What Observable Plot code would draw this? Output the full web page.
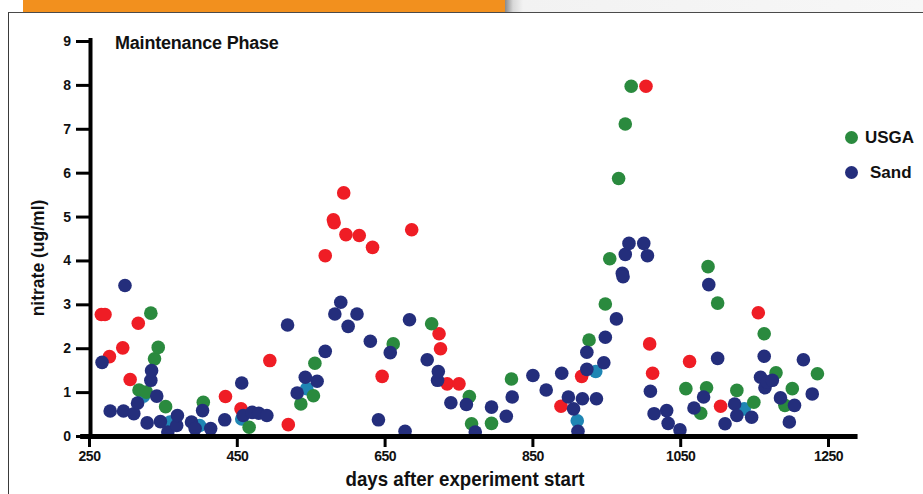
<!DOCTYPE html>
<html>
<head>
<meta charset="utf-8">
<script src="https://cdn.jsdelivr.net/npm/d3@7"></script>
<script src="https://cdn.jsdelivr.net/npm/@observablehq/plot@0.6"></script>
<style>
  html, body { margin: 0; padding: 0; background: #fff; }
  #wrap { position: relative; width: 923px; height: 494px; overflow: hidden; background: #fff; font-family: "Liberation Sans", Arial, Helvetica, sans-serif; }
  #orange { position: absolute; left: 23px; top: 0; width: 482px; height: 12px; background: #f2901e; }
  #gray { position: absolute; left: 505px; top: 0; width: 418px; height: 12px; background: linear-gradient(to right, #8a8a8a 0px, #d8d8d8 8px, #f2f2f2 18px, #f7f7f7 100%); }
  #frame { position: absolute; left: 8px; top: 12px; width: 930px; height: 500px; border-left: 1.5px solid #3a3a3a; border-top: 1.5px solid #4a4a4a; box-sizing: border-box; }
  #chart { position: absolute; left: 0; top: 0; }
  #chart svg text { font-family: "Liberation Sans", Arial, sans-serif !important; font-weight: bold !important; font-size: 14px !important; letter-spacing: -0.5px; fill: #111; }
  #title { position: absolute; left: 115px; top: 33px; font-weight: bold; font-size: 18px; color: #111; white-space: nowrap; letter-spacing: -0.2px; }
  .leg { position: absolute; font-weight: bold; font-size: 17px; color: #111; white-space: nowrap; }
  .legdot { position: absolute; width: 13px; height: 13px; border-radius: 50%; }
  #ylab { position: absolute; left: 38px; top: 258px; transform: translate(-50%, -50%) rotate(-90deg); font-weight: bold; font-size: 17.5px; color: #111; white-space: nowrap; }
  #xlab { position: absolute; left: 465px; top: 479px; transform: translate(-50%, -50%) scaleX(0.89); font-weight: bold; font-size: 21px; color: #111; white-space: nowrap; }
</style>
</head>
<body>
<div id="wrap">
  <div id="orange"></div>
  <div id="gray"></div>
  <div id="frame"></div>
  <div id="chart"></div>
  <div id="title">Maintenance Phase</div>
  <div class="legdot" style="left:845px; top:131px; background:#2a8a3e;"></div>
  <div class="leg" style="left:865px; top:128px;">USGA</div>
  <div class="legdot" style="left:845px; top:166px; background:#242e7c;"></div>
  <div class="leg" style="left:870px; top:163px;">Sand</div>
  <div id="ylab">nitrate (ug/ml)</div>
  <div id="xlab">days after experiment start</div>
</div>
<script>
// ---- data ----
const xTicks = [250, 450, 650, 850, 1050, 1250];
const yTicks = [0, 1, 2, 3, 4, 5, 6, 7, 8, 9];

// USGA (green)
const usgaDays = [317, 327, 333, 338, 343, 353, 404, 466, 536, 553, 555, 661, 713, 764, 767, 794, 821, 926, 948, 954, 966, 975, 983, 1057, 1077, 1085, 1087, 1100, 1126, 1149, 1163, 1179, 1191, 1201, 1235];
const usgaVals = [1.06, 1.01, 2.81, 1.77, 2.03, 0.68, 0.78, 0.21, 0.74, 0.93, 1.67, 2.11, 2.57, 0.91, 0.29, 0.30, 1.31, 2.20, 3.02, 4.05, 5.88, 7.12, 7.98, 1.09, 0.53, 1.11, 3.87, 3.04, 1.05, 0.78, 2.34, 1.45, 0.71, 1.09, 1.43];

// Sand (navy)
const sandDays = [267, 278, 296, 298, 310, 315, 328, 333, 334, 341, 346, 356, 368, 369, 388, 393, 403, 414, 433, 456, 458, 470, 479, 490, 518, 531, 542, 558, 569, 582, 590, 600, 612, 630, 641, 657, 677, 683, 707, 721, 722, 739, 760, 772, 794, 814, 822, 850, 868, 889, 898, 905, 911, 917, 923, 923, 936, 946, 948, 963, 971, 972, 975, 980, 1000, 1005, 1009, 1014, 1031, 1033, 1049, 1068, 1081, 1088, 1100, 1110, 1123, 1126, 1146, 1158, 1163, 1164, 1167, 1174, 1185, 1197, 1204, 1216, 1228];
const sandVals = [1.69, 0.58, 0.58, 3.44, 0.52, 0.76, 0.31, 1.28, 1.50, 0.92, 0.34, 0.10, 0.25, 0.48, 0.33, 0.18, 0.59, 0.18, 0.38, 1.22, 0.48, 0.55, 0.53, 0.48, 2.54, 0.99, 1.35, 1.26, 1.94, 2.79, 3.06, 2.51, 2.79, 2.17, 0.38, 1.91, 0.12, 2.66, 1.75, 1.28, 1.48, 0.77, 0.73, 0.10, 0.67, 0.46, 0.90, 1.39, 1.06, 1.44, 0.90, 0.63, 0.12, 0.86, 1.53, 1.92, 0.86, 1.68, 2.26, 2.68, 3.72, 3.64, 4.15, 4.40, 4.40, 4.12, 1.03, 0.52, 0.59, 0.30, 0.15, 0.65, 0.90, 3.46, 1.78, 0.29, 0.74, 0.48, 0.44, 1.35, 1.83, 1.11, 1.24, 1.28, 0.88, 0.33, 0.71, 1.75, 0.97];

// third series (red, no legend entry visible)
const redDays = [266, 271, 277, 295, 305, 316, 434, 455, 494, 519, 569, 580, 581, 594, 597, 615, 633, 646, 686, 723, 725, 734, 750, 888, 916, 1003, 1008, 1012, 1062, 1104, 1155];
const redVals = [2.78, 2.78, 1.82, 2.02, 1.30, 2.58, 0.91, 0.63, 1.73, 0.27, 4.12, 4.94, 4.87, 5.55, 4.60, 4.58, 4.31, 1.37, 4.71, 2.34, 2.00, 1.20, 1.20, 0.69, 1.37, 7.98, 2.11, 1.44, 1.71, 0.69, 2.82];

// partly hidden light-blue points
const tealDays = [323, 359, 399, 456, 544, 910, 935, 1136];
const tealVals = [0.92, 0.33, 0.25, 0.40, 1.09, 0.36, 1.48, 0.63];

const toRows = (days, vals) => days.map((d, i) => ({day: d, val: vals[i]}));
const usga = toRows(usgaDays, usgaVals);
const sand = toRows(sandDays, sandVals);
const red = toRows(redDays, redVals);
const teal = toRows(tealDays, tealVals);

const GREEN = "#2a8a3e", NAVY = "#242e7c", RED = "#ef1d25", TEAL = "#1f86b4";

const chart = Plot.plot({
  width: 923,
  height: 494,
  marginLeft: 89,
  marginRight: 95,
  marginTop: 41,
  marginBottom: 58,
  style: {background: "transparent", color: "#111", overflow: "visible"},
  x: {domain: [250, 1250]},
  y: {domain: [0, 9]},
  marks: [
    Plot.dot(teal, {x: "day", y: "val", r: 6.8, fill: TEAL}),
    Plot.dot(red, {x: "day", y: "val", r: 6.8, fill: RED}),
    Plot.dot(usga, {x: "day", y: "val", r: 6.8, fill: GREEN}),
    Plot.dot(sand, {x: "day", y: "val", r: 6.8, fill: NAVY}),
    Plot.ruleX([250], {y1: -0.06, y2: 9.07, stroke: "#000", strokeWidth: 4, dx: 1}),
    Plot.ruleY([0], {x1: 238, x2: 1290, stroke: "#000", strokeWidth: 5}),
    Plot.axisX(xTicks, {tickSize: 11, strokeWidth: 3, tickPadding: 4, stroke: "#000", tickFormat: d => String(d), label: null}),
    Plot.axisY(yTicks, {tickSize: 13, strokeWidth: 3, tickPadding: 6, stroke: "#000", tickFormat: d => String(d), label: null})
  ]
});
document.getElementById("chart").appendChild(chart);
</script>
</body>
</html>
